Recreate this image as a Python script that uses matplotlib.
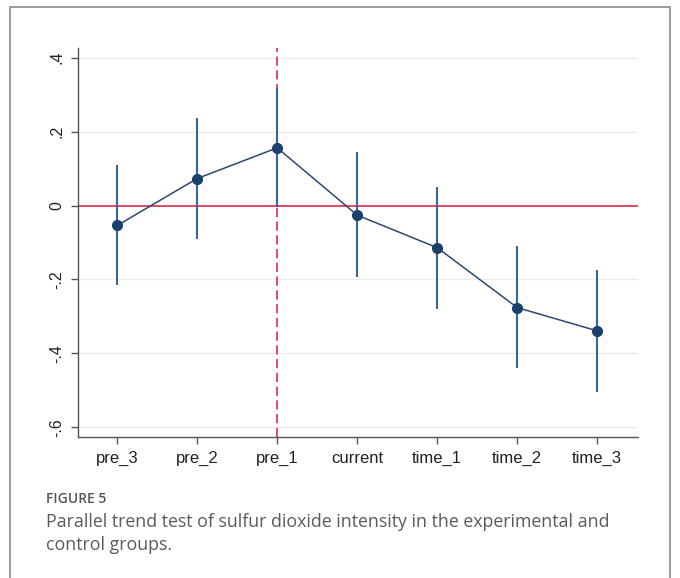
import matplotlib.pyplot as plt
from matplotlib.patches import Rectangle

plt.rcParams['font.family'] = ['Liberation Sans', 'DejaVu Sans']

# data
periods = ['pre_3', 'pre_2', 'pre_1', 'current', 'time_1', 'time_2', 'time_3']
coef = [-0.054, 0.073, 0.156, -0.026, -0.114, -0.276, -0.339]
ci_low = [-0.216, -0.091, -0.003, -0.194, -0.279, -0.440, -0.505]
ci_high = [0.110, 0.238, 0.319, 0.144, 0.050, -0.110, -0.175]
yticks = [-0.6, -0.4, -0.2, 0, 0.2, 0.4]
ytick_labels = ['-.6', '-.4', '-.2', '0', '.2', '.4']

fig = plt.figure(figsize=(6.8, 5.78), dpi=100)
fig.patch.set_facecolor('white')

# outer frame
fig.patches.append(Rectangle((10 / 680, -0.05), 660 / 680, 1 - 7 / 578 + 0.05,
                             transform=fig.transFigure, fill=False,
                             edgecolor='#8a8a8a', linewidth=1.2))

ax = fig.add_axes([78 / 680, 1 - 437 / 578, 560 / 680, 389 / 578])
x = list(range(1, len(periods) + 1))

ax.axhline(0, color='#d7193f', linewidth=1.1, zorder=2)
ax.axvline(3, color='#d7193f', linewidth=1.1, linestyle=(0, (6, 3)), zorder=2)

ax.vlines(x, ci_low, ci_high, color='#3c6592', linewidth=1.5, zorder=3)
ax.plot(x, coef, color='#2b4a6e', linewidth=1.1, marker='o', markersize=7,
        markerfacecolor='#1a416b', markeredgecolor='#1a416b', zorder=4)

ax.set_xlim(0.51, 7.51)
ax.set_ylim(-0.626, 0.426)
ax.set_yticks(yticks)
ax.set_yticklabels(ytick_labels, rotation=90, va='center', fontsize=11.5)
ax.set_xticks(x)
ax.set_xticklabels(periods, fontsize=12)
ax.grid(axis='y', color='#ececec', linewidth=0.9)
ax.set_axisbelow(True)

for s in ['top', 'right']:
    ax.spines[s].set_visible(False)
for s in ['left', 'bottom']:
    ax.spines[s].set_color('#555555')
    ax.spines[s].set_linewidth(1.0)
ax.tick_params(colors='#555555', labelcolor='#222222', length=5, width=1.0, pad=5)

cap_font = ['Open Sans', 'DejaVu Sans']
fig.text(46 / 680, 1 - 503 / 578, 'FIGURE 5', family=cap_font,
         fontsize=10, fontweight='semibold', color='#555555', va='baseline')
fig.text(46 / 680, 1 - 527 / 578,
         'Parallel trend test of sulfur dioxide intensity in the experimental and',
         family=cap_font, fontsize=12.8, color='#5a5a5a', va='baseline')
fig.text(46 / 680, 1 - 550 / 578, 'control groups.',
         family=cap_font, fontsize=12.8, color='#5a5a5a', va='baseline')

fig.savefig('out.png', dpi=100)
